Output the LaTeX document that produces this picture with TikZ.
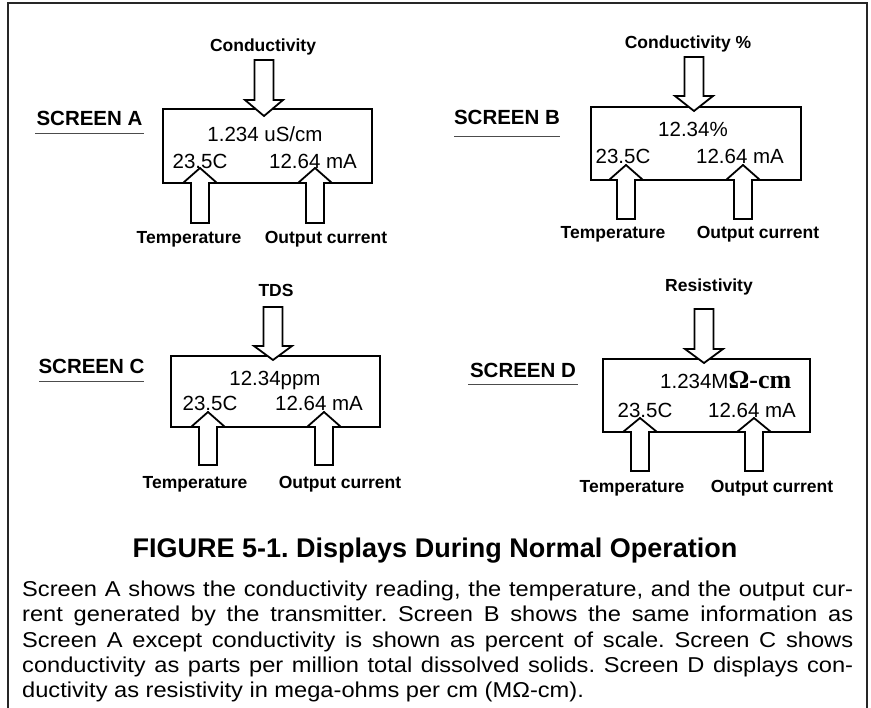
\documentclass[tikz,border=0pt]{standalone}
\usepackage{fontspec}
\setmainfont{Liberation Sans}
\newfontfamily\serifbold{Liberation Serif}
\newfontfamily\parafont[FakeStretch=1.1]{Liberation Sans}
\frenchspacing
\tikzset{
  frameline/.style={line width=2.5pt, draw=black!85},
  screenbox/.style={draw, line width=2.6pt, line join=miter},
  blockarrow/.style={draw, fill=white, line width=1.8pt, line join=miter},
  lbl/.style={font=\bfseries\fontsize{17.5}{20}\selectfont, inner sep=0pt, anchor=base},
  scrtext/.style={font=\fontsize{20.5}{24}\selectfont, inner sep=0pt, anchor=base},
  scrname/.style={font=\bfseries\fontsize{20.5}{24}\selectfont, inner sep=0pt, anchor=base},
  uline/.style={line width=0.9pt, draw=black!70},
  paraline/.style={font=\parafont\fontsize{21.5}{25}\selectfont, inner sep=0pt, anchor=base west},
  titletext/.style={font=\bfseries\fontsize{27}{30}\selectfont, inner sep=0pt, anchor=base},
}
\newcommand\blkdown[4]{\draw[blockarrow] ({#1-9.5},#2) -- ({#1+9.5},#2) -- ({#1+9.5},#3) -- ({#1+19},#3) -- (#1,#4) -- ({#1-19},#3) -- ({#1-9.5},#3) -- cycle;}
\newcommand\blkup[4]{\draw[blockarrow] ({#1-9},#2) -- ({#1+9},#2) -- ({#1+9},#3) -- ({#1+17},#3) -- (#1,#4) -- ({#1-17},#3) -- ({#1-9},#3) -- cycle;}
\begin{document}
\begin{tikzpicture}[x=1pt,y=-1pt]
\useasboundingbox (0,0) rectangle (871,708);
\fill[white] (0,0) rectangle (871,708);
% frame
\draw[frameline] (8,708) -- (8,3) -- (867,3) -- (867,708);

% ---------- Screen A ----------
\draw[screenbox] (163,109) rectangle (372,183);
\blkdown{264}{60}{100}{116}
\blkup{200}{223}{183}{168}
\blkup{315}{223}{183}{168}
\node[lbl] (condA) at (263,52) {Conductivity};
\node[scrtext] (valA) at (265,142) {1.234 uS/cm};
\node[scrtext] (tA) at (200,169) {23.5C};
\node[scrtext] (mA) at (313,169) {12.64 mA};
\node[lbl] (tempA) at (189,244) {Temperature};
\node[lbl] (outA) at (326,244) {Output current};
\node[scrname] (nameA) at (89.5,126) {SCREEN A};
\draw[uline] (35,133) -- (144,133);

% ---------- Screen B ----------
\draw[screenbox] (591,107) rectangle (801,180);
\blkdown{694}{57}{96}{111}
\blkup{626}{219}{180}{165}
\blkup{743}{219}{180}{165}
\node[lbl] (condB) at (688,49) {Conductivity \%};
\node[scrtext] (valB) at (693,137) {12.34\%};
\node[scrtext] (tB) at (623,164) {23.5C};
\node[scrtext] (mB) at (740,164) {12.64 mA};
\node[lbl] (tempB) at (613,239) {Temperature};
\node[lbl] (outB) at (758,239) {Output current};
\node[scrname] (nameB) at (507,125) {SCREEN B};
\draw[uline] (454,136) -- (560,136);

% ---------- Screen C ----------
\draw[screenbox] (171,356) rectangle (380,427);
\blkdown{273}{307}{346}{360}
\blkup{208}{465}{427}{412}
\blkup{324}{465}{427}{412}
\node[lbl] (tds) at (276,297) {TDS};
\node[scrtext] (valC) at (275,386) {12.34ppm};
\node[scrtext] (tC) at (210,411) {23.5C};
\node[scrtext] (mC) at (319,411) {12.64 mA};
\node[lbl] (tempC) at (195,489) {Temperature};
\node[lbl] (outC) at (340,489) {Output current};
\node[scrname] (nameC) at (91.5,374) {SCREEN C};
\draw[uline] (39,381) -- (144,381);

% ---------- Screen D ----------
\draw[screenbox] (603,359) rectangle (810,432);
\blkdown{704}{309}{349}{363}
\blkup{640}{471}{432}{418}
\blkup{754}{471}{432}{418}
\node[lbl] (resD) at (709,292) {Resistivity};
\node[scrtext, anchor=base west] (valD) at (660,389) {1.234M{\serifbold\bfseries\fontsize{26}{28}\selectfont Ω-cm}};
\node[scrtext] (tD) at (645,418) {23.5C};
\node[scrtext] (mD) at (752,418) {12.64 mA};
\node[lbl] (tempD) at (632,493) {Temperature};
\node[lbl] (outD) at (772,493) {Output current};
\node[scrname] (nameD) at (523,378) {SCREEN D};
\draw[uline] (468,384) -- (578,384);

% ---------- caption ----------
\node[titletext] (title) at (435,558) {FIGURE 5-1. Displays During Normal Operation};
\node[paraline] (p1) at (22,597) {\makebox[831pt][s]{Screen A shows the conductivity reading, the temperature, and the output cur-}};
\node[paraline] (p2) at (22,622) {\makebox[831pt][s]{rent generated by the transmitter. Screen B shows the same information as}};
\node[paraline] (p3) at (22,647) {\makebox[831pt][s]{Screen A except conductivity is shown as percent of scale. Screen C shows}};
\node[paraline] (p4) at (22,672) {\makebox[831pt][s]{conductivity as parts per million total dissolved solids. Screen D displays con-}};
\node[paraline] (p5) at (22,697) {ductivity as resistivity in mega-ohms per cm (MΩ-cm).};
\end{tikzpicture}
\end{document}
